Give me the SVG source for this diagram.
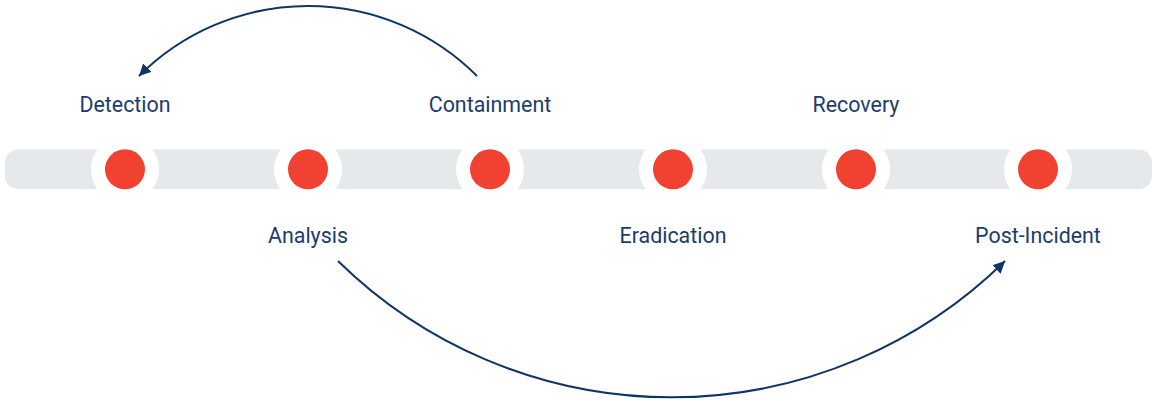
<svg xmlns="http://www.w3.org/2000/svg" width="1158" height="401" viewBox="0 0 1158 401">
  <style>
    .bar { fill: #e6e9ec; }
    .halo { fill: #ffffff; }
    .dot { fill: #f04131; }
    .label { font-family: Roboto, "Liberation Sans", sans-serif; font-size: 21.4px; fill: #1c3c6c; text-anchor: middle; }
    .conn { fill: none; stroke: #0f3566; stroke-width: 2; }
  </style>
  <defs>
    <marker id="arrow" markerUnits="userSpaceOnUse" markerWidth="14" markerHeight="14" refX="12" refY="6" orient="auto">
      <path d="M0,0 L12,6 L0,12 Z" fill="#0f3566"/>
    </marker>
  </defs>
  <rect class="bar" x="5" y="149.5" width="1147" height="39.5" rx="13" ry="13"/>
  <g id="detection">
    <circle class="halo" cx="125" cy="169.3" r="34"/>
    <circle class="dot" cx="125" cy="169.3" r="20"/>
    <text class="label" x="125" y="111.5">Detection</text>
  </g>
  <g id="analysis">
    <circle class="halo" cx="308" cy="169.3" r="34"/>
    <circle class="dot" cx="308" cy="169.3" r="20"/>
    <text class="label" x="308" y="242.5">Analysis</text>
  </g>
  <g id="containment">
    <circle class="halo" cx="490" cy="169.3" r="34"/>
    <circle class="dot" cx="490" cy="169.3" r="20"/>
    <text class="label" x="490" y="111.5">Containment</text>
  </g>
  <g id="eradication">
    <circle class="halo" cx="673" cy="169.3" r="34"/>
    <circle class="dot" cx="673" cy="169.3" r="20"/>
    <text class="label" x="673" y="242.5">Eradication</text>
  </g>
  <g id="recovery">
    <circle class="halo" cx="856" cy="169.3" r="34"/>
    <circle class="dot" cx="856" cy="169.3" r="20"/>
    <text class="label" x="856" y="111.5">Recovery</text>
  </g>
  <g id="post-incident">
    <circle class="halo" cx="1038" cy="169.3" r="34"/>
    <circle class="dot" cx="1038" cy="169.3" r="20"/>
    <text class="label" x="1038" y="242.5">Post-Incident</text>
  </g>
  <g id="connectors">
    <path class="conn" d="M477,76 A239,239 0 0 0 139,76" marker-end="url(#arrow)"/>
    <path class="conn" d="M338,261 A476,476 0 0 0 1005,261" marker-end="url(#arrow)"/>
  </g>
</svg>
